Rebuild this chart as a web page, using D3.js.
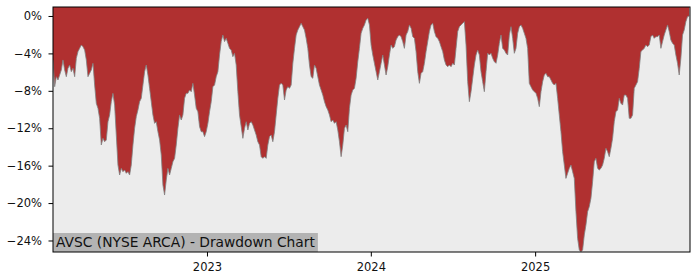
<!DOCTYPE html>
<html>
<head>
<meta charset="utf-8">
<script src="https://cdn.jsdelivr.net/npm/d3@7"></script>
<style>
  body { margin: 0; background: #fff; }
  svg { display: block; font-family: "DejaVu Sans", sans-serif; }
</style>
</head>
<body>
<svg id="chart" width="700" height="280"></svg>
<script>
// drawdown readings (%), one every ~3.71 days starting 2022-01-23
const startDate = new Date(2022, 0, 23);
const stepDays = 3.71;
const drawdown = [
  -4.70, -7.56, -6.49, -6.84, -6.31, -5.77, -4.70, -5.77, -6.49, -5.60,
  -5.24, -5.95, -5.60, -6.49, -4.53, -3.81, -3.46, -3.10, -3.28, -3.64,
  -4.70, -6.49, -6.13, -5.77, -5.06, -7.38, -9.34, -9.87, -10.94, -13.79,
  -13.08, -13.44, -13.26, -11.30, -10.58, -9.16, -8.27, -9.52, -12.72, -15.93,
  -17.00, -16.29, -16.64, -16.46, -16.82, -16.64, -17.00, -15.93, -13.79, -12.01,
  -10.76, -10.05, -9.16, -8.80, -7.38, -5.95, -5.24, -6.31, -7.73, -9.16,
  -10.58, -11.48, -11.30, -12.37, -13.26, -14.86, -18.07, -19.14, -17.53, -16.29,
  -17.00, -16.29, -15.57, -15.22, -13.79, -12.01, -10.58, -11.12, -10.58, -8.80,
  -8.27, -8.27, -7.91, -8.09, -7.20, -8.45, -9.87, -10.23, -11.83, -12.37,
  -12.37, -12.90, -12.37, -11.48, -10.23, -9.16, -7.56, -7.38, -6.49, -5.95,
  -4.17, -2.74, -2.03, -2.74, -2.39, -2.92, -3.46, -3.64, -4.35, -3.99,
  -5.24, -8.09, -10.58, -11.83, -13.08, -12.01, -11.30, -12.19, -11.48, -11.30,
  -11.65, -12.19, -12.72, -13.44, -13.79, -15.04, -15.22, -15.04, -15.22, -13.79,
  -12.90, -12.72, -13.44, -12.37, -10.58, -8.80, -7.38, -7.20, -7.38, -8.98,
  -7.91, -7.56, -7.73, -7.38, -5.06, -3.46, -2.03, -1.50, -1.14, -0.78,
  -1.14, -1.50, -2.39, -3.46, -5.24, -6.49, -6.66, -5.24, -5.60, -6.49,
  -7.38, -7.91, -8.45, -9.16, -9.69, -10.05, -10.58, -11.30, -11.12, -11.48,
  -11.30, -12.19, -13.44, -15.04, -13.79, -12.01, -11.65, -12.37, -9.87, -8.45,
  -7.91, -7.73, -6.66, -4.88, -3.46, -1.85, -1.32, -0.96, -0.43, -0.25,
  -0.96, -3.10, -4.17, -5.06, -5.95, -6.84, -5.95, -5.06, -4.17, -5.24,
  -6.31, -5.42, -4.17, -3.10, -3.46, -3.28, -2.57, -2.21, -2.03, -2.21,
  -2.74, -3.46, -2.03, -1.67, -0.96, -1.32, -2.21, -2.39, -3.81, -5.95,
  -7.20, -6.13, -5.95, -5.06, -3.81, -2.74, -1.67, -0.96, -0.78, -1.67,
  -2.21, -2.39, -2.74, -3.28, -3.81, -4.70, -5.24, -5.42, -5.24, -5.42,
  -5.06, -5.24, -3.46, -1.67, -1.14, -0.96, -0.78, -0.61, -3.10, -7.02,
  -9.16, -8.09, -6.66, -5.24, -4.17, -3.64, -4.17, -5.95, -7.02, -8.09,
  -5.95, -3.99, -4.17, -3.99, -4.53, -4.88, -5.06, -4.17, -2.92, -2.03,
  -3.46, -3.64, -3.99, -4.17, -2.03, -1.14, -2.39, -3.99, -3.46, -1.85,
  -1.14, -0.96, -1.32, -1.85, -2.39, -3.46, -7.20, -7.56, -7.91, -8.09,
  -8.27, -8.80, -9.69, -8.09, -7.02, -6.31, -6.13, -6.49, -6.49, -6.84,
  -7.20, -7.38, -7.20, -8.80, -10.58, -12.37, -14.50, -15.93, -17.36, -16.82,
  -16.29, -15.93, -16.64, -17.36, -20.92, -23.77, -25.02, -25.20, -25.02, -23.41,
  -22.34, -20.92, -20.38, -19.49, -17.71, -15.57, -15.22, -16.29, -16.46, -16.29,
  -15.93, -15.22, -14.15, -14.50, -15.04, -14.15, -13.08, -11.30, -10.23, -10.05,
  -8.80, -9.34, -9.52, -8.45, -8.45, -8.80, -10.94, -10.94, -10.58, -7.73,
  -7.38, -7.02, -5.60, -3.81, -3.64, -3.46, -3.10, -3.28, -3.10, -2.21,
  -2.03, -2.39, -2.21, -2.21, -2.03, -3.46, -2.74, -2.03, -1.50, -0.96,
  -1.67, -2.57, -2.92, -3.10, -4.17, -5.06, -6.31, -4.53, -2.03, -1.50,
  -0.61, -0.07, 0
];
const yTicks = [0, -4, -8, -12, -16, -20, -24];
const xTickYears = [2023, 2024, 2025];
const title = 'AVSC (NYSE ARCA) - Drawdown Chart';

const data = drawdown.map((v, i) => ({
  date: d3.timeHour.offset(startDate, Math.round(i * stepDays * 24)),
  value: v
}));

const svg = d3.select('#chart');
const margin = { left: 53, right: 10, top: 7, bottom: 28 };
const W = 700, H = 280;

const x = d3.scaleTime()
  .domain([new Date(2022, 0, 23), new Date(2025, 11, 12)])
  .range([margin.left, W - margin.right]);

const y = d3.scaleLinear()
  .domain([-25.23, 0.96])
  .range([H - margin.bottom, margin.top]);

// plot background
svg.append('rect')
  .attr('x', margin.left).attr('y', margin.top)
  .attr('width', W - margin.left - margin.right)
  .attr('height', H - margin.top - margin.bottom)
  .attr('fill', '#ececec');

svg.append('clipPath').attr('id', 'clip')
  .append('rect')
  .attr('x', margin.left).attr('y', margin.top)
  .attr('width', W - margin.left - margin.right)
  .attr('height', H - margin.top - margin.bottom);

const plot = svg.append('g').attr('clip-path', 'url(#clip)');

// red area from the top of the plot down to the drawdown curve
const area = d3.area()
  .x(d => x(d.date))
  .y0(y(y.domain()[1]))
  .y1(d => y(d.value));

plot.append('path')
  .datum(data)
  .attr('fill', '#b03030')
  .attr('d', area);

plot.append('path')
  .datum(data)
  .attr('fill', 'none')
  .attr('stroke', '#808080')
  .attr('stroke-width', 0.8)
  .attr('d', d3.line().x(d => x(d.date)).y(d => y(d.value)));

// title box bottom-left
const label = svg.append('g');
const labelText = label.append('text')
  .attr('x', margin.left + 3)
  .attr('y', H - margin.bottom - 5.5)
  .attr('font-size', '13.8px')
  .attr('fill', '#111')
  .text(title);
const tw = labelText.node().getComputedTextLength();
label.insert('rect', 'text')
  .attr('x', margin.left)
  .attr('y', H - margin.bottom - 19)
  .attr('width', tw + 6)
  .attr('height', 19)
  .attr('fill', '#b3b3b3');

// axes
const fmt = d => (d < 0 ? '\u2212' : '') + Math.abs(d) + '%';

const yAxis = svg.append('g')
  .attr('transform', `translate(${margin.left},0)`)
  .call(d3.axisLeft(y).tickValues(yTicks).tickFormat(fmt).tickSize(4.5).tickPadding(6.5));

const xAxis = svg.append('g')
  .attr('transform', `translate(0,${H - margin.bottom})`)
  .call(d3.axisBottom(x)
    .tickValues(xTickYears.map(yr => new Date(yr, 0, 1)))
    .tickFormat(d3.timeFormat('%Y'))
    .tickSize(4.5).tickPadding(6));

[yAxis, xAxis].forEach(a => {
  a.select('.domain').remove();
  a.selectAll('text').attr('font-size', '11.5px').attr('fill', '#111').attr('font-family', '"DejaVu Sans", sans-serif');
  a.selectAll('line').attr('stroke', '#000');
});

// frame
svg.append('rect')
  .attr('x', margin.left).attr('y', margin.top)
  .attr('width', W - margin.left - margin.right)
  .attr('height', H - margin.top - margin.bottom)
  .attr('fill', 'none')
  .attr('stroke', '#000')
  .attr('stroke-width', 1);
</script>
</body>
</html>
